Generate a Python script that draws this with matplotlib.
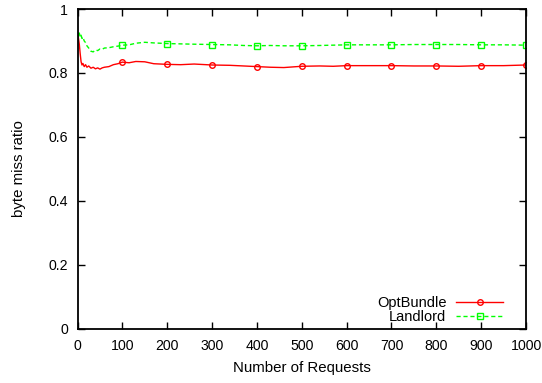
import matplotlib
matplotlib.use("Agg")
import matplotlib.pyplot as plt

plt.rcParams['font.family'] = ['Liberation Sans', 'DejaVu Sans']

requests = [0, 2, 4, 6, 8, 10, 12, 15, 18, 21, 25, 30, 35, 40, 45, 50, 55, 60, 70, 80, 90,
            100, 115, 130, 150, 170, 200, 230, 260, 300, 340, 370, 400, 430, 460, 500,
            540, 570, 600, 650, 700, 750, 800, 850, 900, 950, 1000]

optbundle = [0.925, 0.91, 0.89, 0.86, 0.835, 0.825, 0.83, 0.82, 0.826, 0.818, 0.822, 0.815,
             0.818, 0.813, 0.816, 0.812, 0.816, 0.818, 0.82, 0.826, 0.829,
             0.834, 0.832, 0.836, 0.835, 0.829, 0.827, 0.826, 0.828, 0.825, 0.824, 0.822,
             0.820, 0.818, 0.817, 0.821, 0.822, 0.821, 0.823, 0.823, 0.823, 0.822, 0.822,
             0.821, 0.823, 0.823, 0.825]

landlord = [0.928, 0.915, 0.925, 0.912, 0.918, 0.908, 0.912, 0.90, 0.895, 0.885, 0.878, 0.868,
            0.866, 0.872, 0.870, 0.875, 0.874, 0.878, 0.879, 0.882, 0.884,
            0.887, 0.888, 0.893, 0.896, 0.894, 0.892, 0.891, 0.890, 0.889, 0.888, 0.886,
            0.885, 0.886, 0.885, 0.885, 0.886, 0.887, 0.888, 0.888, 0.888, 0.889, 0.889,
            0.889, 0.888, 0.888, 0.887]

xticks = [0, 100, 200, 300, 400, 500, 600, 700, 800, 900, 1000]
yticks = [0, 0.2, 0.4, 0.6, 0.8, 1.0]
ytick_labels = ["0", "0.2", "0.4", "0.6", "0.8", "1"]

marks = [i for i, r in enumerate(requests) if r > 0 and r % 100 == 0]

fig = plt.figure(figsize=(5.42, 3.83), dpi=100)
ax = fig.add_axes([0.143, 0.141, 0.8275, 0.8355])

ax.plot(requests, optbundle, color='#ff0000', lw=1.0, marker='o', ms=4,
        mfc='none', mec='#ff0000', mew=1.0, markevery=marks, label='OptBundle')
ax.plot(requests, landlord, color='#00ff00', lw=1.0, ls=(0, (3, 2)), marker='s', ms=4,
        mfc='none', mec='#00ff00', mew=1.0, markevery=marks, label='Landlord')

ax.set_xlim(0, 1000)
ax.set_ylim(0, 1)
ax.set_xticks(xticks)
ax.set_xticklabels([str(t) for t in xticks])
ax.set_yticks(yticks)
ax.set_yticklabels(ytick_labels)
ax.tick_params(direction='in', length=5, width=1, top=True, right=True, labelsize=10.2)
ax.tick_params(axis='x', pad=7.5)
ax.tick_params(axis='y', pad=7)
for s in ax.spines.values():
    s.set_linewidth(1.3)

ax.set_xlabel('Number of Requests', fontsize=10.8, labelpad=5.5)
ax.set_ylabel('byte miss ratio', fontsize=10.8, labelpad=16)

leg = ax.legend(loc='lower right', frameon=False, markerfirst=False, fontsize=10.5,
                handlelength=3.2, handletextpad=0.7, labelspacing=0.02,
                borderaxespad=0.0, borderpad=0.0, bbox_to_anchor=(0.949, 0.015))

fig.savefig('out.png', dpi=100)
